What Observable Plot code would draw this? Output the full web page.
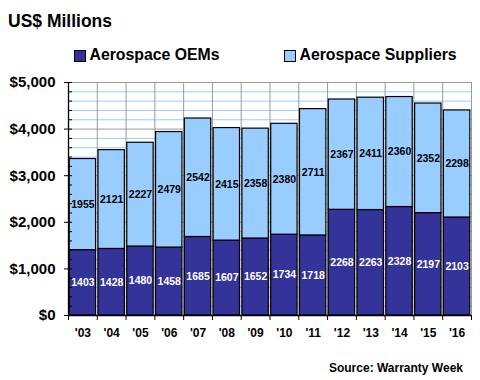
<!DOCTYPE html>
<html><head><meta charset="utf-8">
<script src="https://cdn.jsdelivr.net/npm/d3@7"></script>
<script src="https://cdn.jsdelivr.net/npm/@observablehq/plot@0.6"></script>
<style>
body{margin:0;background:#fff;font-family:"Liberation Sans",Arial,sans-serif;}
#wrap{position:relative;width:480px;height:380px;overflow:hidden;background:#fff}
#wrap svg{position:absolute;left:0;top:0}
.t{position:absolute;font-weight:bold;white-space:nowrap;color:#000;line-height:1}
.sw{position:absolute;width:10px;height:10px;border:1px solid #000}
</style></head>
<body>
<div id="wrap"></div>
<script>
const years = ["'03","'04","'05","'06","'07","'08","'09","'10","'11","'12","'13","'14","'15","'16"];
const oems = [1403,1428,1480,1458,1685,1607,1652,1734,1718,2268,2263,2328,2197,2103];
const suppliers = [1955,2121,2227,2479,2542,2415,2358,2380,2711,2367,2411,2360,2352,2298];
const yTicks = [0,1000,2000,3000,4000,5000];
const yMinor = d3.range(200,5000,200).filter(v => v % 1000 !== 0);
const seriesNames = ["Aerospace OEMs","Aerospace Suppliers"];
const colors = ["#333399","#99CCFF"];

const data = years.map((y,i) => ({i, year:y, oem:oems[i], sup:suppliers[i]}));
const font = '"Liberation Sans",Arial,sans-serif';

const chart = Plot.plot({
  width: 480, height: 380,
  marginLeft: 68, marginRight: 9, marginTop: 82, marginBottom: 65,
  style: {fontFamily: font, background: "transparent", overflow: "visible"},
  x: {type: "linear", domain: [0, years.length], axis: null},
  y: {domain: [0, 5000], axis: null},
  marks: [
    Plot.ruleY(yMinor, {stroke: "#99CCFF", strokeWidth: 1}),
    Plot.ruleY(yTicks.filter(v => v > 0), {stroke: "#999999", strokeWidth: 1}),
    Plot.ruleX(d3.range(1, years.length + 1), {stroke: "#999999", strokeWidth: 1}),
    Plot.rectY(data, {x1: d => d.i, x2: d => d.i + 1, y1: 0, y2: d => d.oem, fill: colors[0], stroke: "#000", strokeWidth: 1.2, insetLeft: 1.2, insetRight: 1.2}),
    Plot.rectY(data, {x1: d => d.i, x2: d => d.i + 1, y1: d => d.oem, y2: d => d.oem + d.sup, fill: colors[1], stroke: "#000", strokeWidth: 1.2, insetLeft: 1.2, insetRight: 1.2}),
    Plot.text(data, {x: d => d.i + 0.5, y: d => d.oem / 2, text: d => String(d.oem), fill: "#fff", fontWeight: "bold", fontSize: 10.5}),
    Plot.text(data, {x: d => d.i + 0.5, y: d => d.oem + d.sup / 2, text: d => String(d.sup), fill: "#000", fontWeight: "bold", fontSize: 10.5}),
    Plot.ruleX([0], {stroke: "#000", strokeWidth: 1.3}),
    Plot.ruleY([0], {stroke: "#000", strokeWidth: 1.3}),
    Plot.axisY({ticks: yTicks, tickSize: 4, text: null, stroke: "#000"}),
    Plot.axisY({ticks: yTicks, tickSize: 4, text: null, stroke: "#000", dx: 4}),
    Plot.axisY({ticks: yMinor, tickSize: 4, text: null, stroke: "#000", dx: 4}),
    Plot.axisY({ticks: yTicks, tickSize: 0, tickPadding: 13, tickFormat: d => "$" + d3.format(",")(d), fontSize: 15, fontWeight: "bold", fill: "#000"}),
    Plot.axisX({ticks: d3.range(0, years.length + 1), tickSize: 5, text: null, stroke: "#000"}),
    Plot.axisX({ticks: d3.range(years.length).map(i => i + 0.5), tickSize: 0, tickPadding: 13, tickFormat: v => years[Math.floor(v)], fontSize: 12, fontWeight: "bold", fill: "#000"})
  ]
});

const wrap = document.getElementById("wrap");
wrap.appendChild(chart);

function addText(txt, left, baseline, fs, extra) {
  const d = document.createElement("div");
  d.className = "t";
  d.textContent = txt;
  d.style.fontSize = fs + "px";
  d.style.top = (baseline - 0.846 * fs) + "px";
  if (left != null) d.style.left = left + "px";
  if (extra) Object.assign(d.style, extra);
  wrap.appendChild(d);
  return d;
}
addText("US$ Millions", 8, 28, 17.5);
const legendX = [[74, 89.5], [284, 299.5]];
seriesNames.forEach((name, k) => {
  const s = document.createElement("div");
  s.className = "sw";
  s.style.left = legendX[k][0] + "px";
  s.style.top = "50px";
  s.style.background = colors[k];
  wrap.appendChild(s);
  addText(name, legendX[k][1], 60, 15.8);
});
addText("Source: Warranty Week", null, 372, 12, {right: "17px"});
</script>
</body></html>
